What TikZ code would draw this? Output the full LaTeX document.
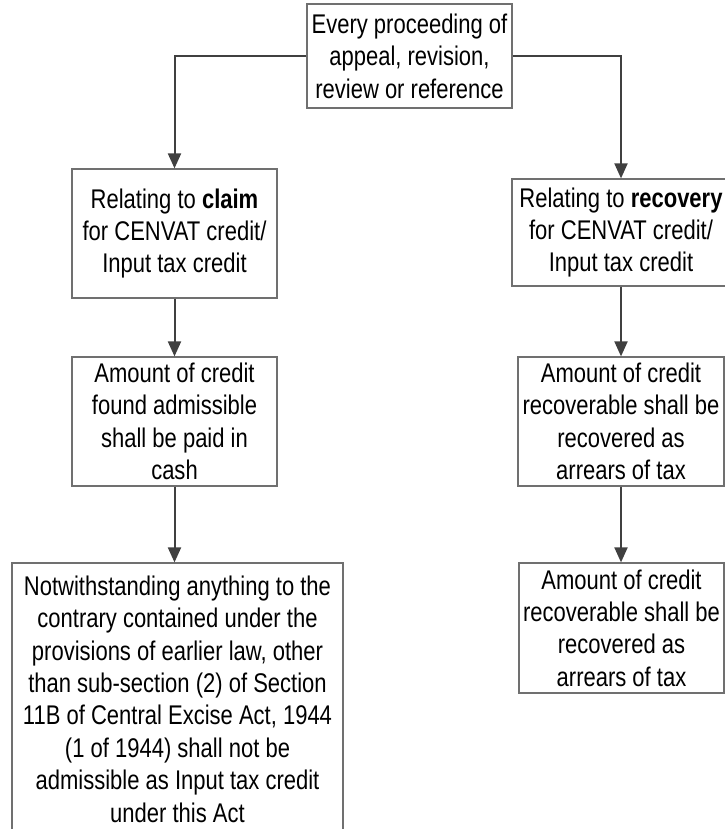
\documentclass[tikz,border=0pt]{standalone}
\usepackage{fontspec}
\setmainfont[FakeStretch=0.815]{Liberation Sans}
\usepackage{tikz}
\usetikzlibrary{arrows.meta,positioning}
\definecolor{BoxGray}{HTML}{707070}
\definecolor{ArrowGray}{HTML}{404040}

\begin{document}
\begin{tikzpicture}[
  x=1pt, y=-1pt,
  % ── node styles ──────────────────────────────────────────
  stepbox/.style={
    draw=BoxGray, line width=1.2pt, fill=white,
    minimum width=205pt, minimum height=129pt,
    align=center, inner sep=0pt,
    font=\fontsize{27}{32.4}\selectfont
  },
  % ── arrow style ──────────────────────────────────────────
  arr/.style={-{Triangle[length=15pt,width=13pt]}, line width=2pt, color=ArrowGray}
]
\useasboundingbox (0,0) rectangle (724,829);

%% ── Top ──
\node[stepbox, minimum height=104pt] (PR) at (409.5,56)
  {Every proceeding of\\appeal, revision,\\review or reference};

%% ── Claim branch ──
\node[stepbox] (CL) at (174.5,233.5)
  {Relating to \textbf{claim}\\for CENVAT credit/\\Input tax credit};
\node[stepbox] (CA) at (174.5,421.5)
  {Amount of credit\\found admissible\\shall be paid in\\cash};
\node[stepbox, minimum width=331pt, minimum height=272pt] (NW) at (177.5,699)
  {Notwithstanding anything to the\\contrary contained under the\\provisions of earlier law, other\\than sub-section (2) of Section\\11B of Central Excise Act, 1944\\(1 of 1944) shall not be\\admissible as Input tax credit\\under this Act};

%% ── Recovery branch ──
\node[stepbox, minimum width=218pt, minimum height=107pt] (RC) at (621,232.5)
  {Relating to \textbf{recovery}\\for CENVAT credit/\\Input tax credit};
\node[stepbox, minimum width=206pt] (RA) at (621,421.5)
  {Amount of credit\\recoverable shall be\\recovered as\\arrears of tax};
\node[stepbox, minimum width=205pt, minimum height=130pt] (RB) at (621.5,628)
  {Amount of credit\\recoverable shall be\\recovered as\\arrears of tax};

%% ── Edges ──
\draw[arr] (PR.west) -| (CL.north);
\draw[arr] (PR.east) -| (RC.north);
\draw[arr] (CL) -- (CA);
\draw[arr] (CA.south) -- (CA.south |- NW.north);
\draw[arr] (RC) -- (RA);
\draw[arr] (RA.south) -- (RA.south |- RB.north);

\end{tikzpicture}
\end{document}
